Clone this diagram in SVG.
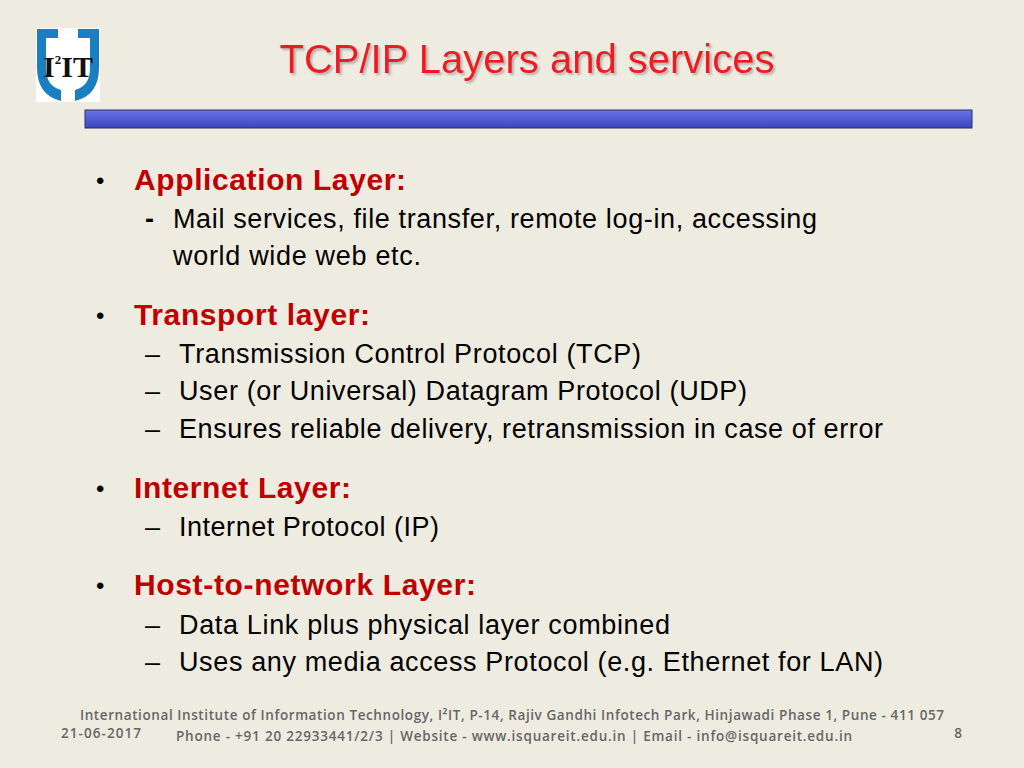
<svg xmlns="http://www.w3.org/2000/svg" width="1024" height="768" viewBox="0 0 1024 768">
<defs>
<linearGradient id="bar" x1="0" y1="0" x2="0" y2="1"><stop offset="0" stop-color="#6a74e8"/><stop offset="1" stop-color="#3a44c0"/></linearGradient>
<filter id="sh" x="-5%" y="-20%" width="110%" height="140%"><feDropShadow dx="2" dy="2" stdDeviation="0.8" flood-color="#888" flood-opacity="0.6"/></filter>
<style>
.h{font-family:"Liberation Sans",Arial,sans-serif;font-size:30px;font-weight:bold;fill:#c00000}
.b{font-family:"Liberation Sans",Arial,sans-serif;font-size:27px;fill:#000}
.d{font-family:"Liberation Sans",Arial,sans-serif;font-size:24px;fill:#000}
.f{font-family:"Open Sans","Liberation Sans",sans-serif;font-size:13.5px;font-weight:600;fill:#666}
</style>
</defs>
<rect width="1024" height="768" fill="#eeece1"/>
<g id="logo">
<rect x="36" y="28" width="64" height="74" fill="#fff"/>
<path d="M37,29 H58 V38 H46 V68 Q46,86 61,90 V101 Q37,95 37,68 Z" fill="#1a7fc1"/>
<path d="M99,29 H78 V38 H90 V68 Q90,86 75,90 V101 Q99,95 99,68 Z" fill="#1a7fc1"/>
<text x="68" y="77" text-anchor="middle" font-family="Liberation Serif,serif" font-weight="bold" font-size="30" fill="#111">I<tspan font-size="13" dy="-13">2</tspan><tspan dy="13">IT</tspan></text>
</g>
<g id="title">
<text x="527" y="73" text-anchor="middle" font-family="Liberation Sans,Arial,sans-serif" font-size="40" fill="#ee1c24" filter="url(#sh)">TCP/IP Layers and services</text>
</g>
<rect id="bar" x="85" y="110" width="887" height="18" fill="url(#bar)" stroke="#2a2e6a" stroke-width="1"/>
<g id="content">
<text x="96" y="189" class="d">•</text><text x="134" y="190" class="h" textLength="272">Application Layer:</text>
<text x="145" y="228" class="b" font-weight="bold">-</text><text x="173" y="228" class="b" textLength="644">Mail services, file transfer, remote log-in, accessing</text>
<text x="173" y="265" class="b" textLength="248">world wide web etc.</text>
<text x="96" y="324" class="d">•</text><text x="134" y="325" class="h" textLength="236">Transport layer:</text>
<text x="145" y="363" class="b">–</text><text x="179" y="363" class="b" textLength="462">Transmission Control Protocol (TCP)</text>
<text x="145" y="400" class="b">–</text><text x="179" y="400" class="b" textLength="568">User (or Universal) Datagram Protocol (UDP)</text>
<text x="145" y="438" class="b">–</text><text x="179" y="438" class="b" textLength="704">Ensures reliable delivery, retransmission in case of error</text>
<text x="96" y="497" class="d">•</text><text x="134" y="498" class="h" textLength="217">Internet Layer:</text>
<text x="145" y="536" class="b">–</text><text x="179" y="536" class="b" textLength="260">Internet Protocol (IP)</text>
<text x="96" y="594" class="d">•</text><text x="134" y="595" class="h" textLength="342">Host-to-network Layer:</text>
<text x="145" y="634" class="b">–</text><text x="179" y="634" class="b" textLength="491">Data Link plus physical layer combined</text>
<text x="145" y="671" class="b">–</text><text x="179" y="671" class="b" textLength="704">Uses any media access Protocol (e.g. Ethernet for LAN)</text>
</g>
<g id="footer">
<text x="80" y="720" class="f" textLength="864">International Institute of Information Technology, I²IT, P-14, Rajiv Gandhi Infotech Park, Hinjawadi Phase 1, Pune - 411 057</text>
<text x="176" y="741" class="f" textLength="676">Phone - +91 20 22933441/2/3 | Website - www.isquareit.edu.in | Email - info@isquareit.edu.in</text>
<text x="61" y="738" class="f" font-weight="400" fill="#888" textLength="80">21-06-2017</text>
<text x="958" y="738" text-anchor="middle" class="f" font-weight="400" fill="#888">8</text>
</g>
</svg>
